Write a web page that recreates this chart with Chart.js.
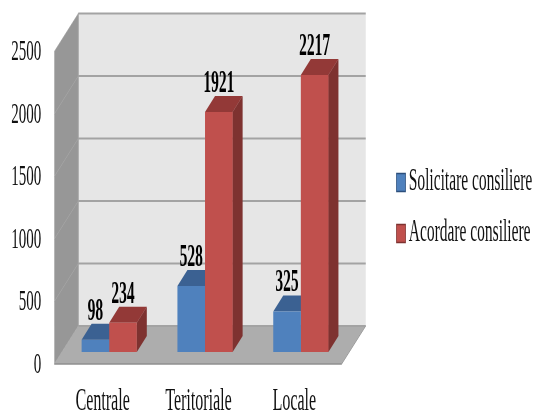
<!DOCTYPE html>
<html>

<head>
	<meta charset="UTF-8">
	<title>Consiliere</title>
	<script src="https://cdn.jsdelivr.net/npm/chart.js@4"></script>
	<style>
		html, body { margin: 0; padding: 0; overflow: hidden; background: #fff; width: 537px; height: 412px; }
		/* the picture is squeezed sideways: draw at double width, then halve it */
		#chart-area { position: absolute; left: 0; top: 0; transform: scaleX(0.5); transform-origin: 0 0; filter: blur(0.6px); }
	</style>
</head>

<body>
	<canvas id="chart-area" width="1074" height="412"></canvas>
</body>

<script>
	var categories = ['Centrale', 'Teritoriale', 'Locale'];
	var solicitare = [98, 528, 325];
	var acordare = [234, 1921, 2217];
	var seriesNames = ['Solicitare consiliere', 'Acordare consiliere'];
	var yMax = 2500;
	var yStep = 500;

	var FONT = 'Liberation Serif';
	var colors = [
		{ front: '#4f81bd', top: '#3b6192', side: '#335a8a', edge: '#2c4f7c' },
		{ front: '#c0504d', top: '#933937', side: '#7e3230', edge: '#7e3230' }
	];

	// 3d look, all relative to the chart area
	var barDepthX = 20, barDepthY = 16;
	var wallBackX = 34, wallFrontX = -14;
	var wallBackY = -26, wallFrontY = 12;

	function poly(ctx, pts, fill) {
		ctx.beginPath();
		ctx.moveTo(pts[0][0], pts[0][1]);
		for (var i = 1; i < pts.length; i++) ctx.lineTo(pts[i][0], pts[i][1]);
		ctx.closePath();
		ctx.fillStyle = fill;
		ctx.fill();
	}

	function line(ctx, x1, y1, x2, y2, color, w) {
		ctx.beginPath();
		ctx.moveTo(x1, y1);
		ctx.lineTo(x2, y2);
		ctx.strokeStyle = color;
		ctx.lineWidth = w;
		ctx.stroke();
	}

	var box3d = {
		id: 'box3d',
		afterLayout: function (chart) {
			// move legend away from the plot
			var lg = chart.legend;
			lg.left = 782; lg.right = 1074;
			lg.top = 3; lg.bottom = 412;
		},
		beforeDatasetsDraw: function (chart) {
			var ctx = chart.ctx, a = chart.chartArea, y = chart.scales.y;
			var y0 = y.getPixelForValue(0), yTop = y.getPixelForValue(yMax);
			var backL = a.left + wallBackX, backR = a.right + wallBackX;
			var frontL = a.left + wallFrontX, frontR = a.right + wallFrontX;

			ctx.save();
			// back wall, side wall, floor
			poly(ctx, [[backL, yTop + wallBackY], [backR, yTop + wallBackY], [backR, y0 + wallBackY], [backL, y0 + wallBackY]], '#e6e6e6');
			poly(ctx, [[frontL, yTop + wallFrontY], [backL, yTop + wallBackY], [backL, y0 + wallBackY], [frontL, y0 + wallFrontY]], '#979797');
			poly(ctx, [[frontL, y0 + wallFrontY], [backL, y0 + wallBackY], [backR, y0 + wallBackY], [frontR, y0 + wallFrontY]], '#adadad');

			// grid lines from the y ticks
			y.ticks.forEach(function (t) {
				var gy = y.getPixelForValue(t.value);
				line(ctx, frontL, gy + wallFrontY, backL, gy + wallBackY, '#a9a9a9', 1);
				line(ctx, backL, gy + wallBackY, backR, gy + wallBackY, '#a3a3a3', 2);
			});
			line(ctx, backL, yTop + wallBackY, backL, y0 + wallBackY, '#a3a3a3', 2);
			line(ctx, frontL, y0 + wallFrontY, frontR, y0 + wallFrontY, '#8f8f8f', 1.5);
			line(ctx, frontR, y0 + wallFrontY, backR, y0 + wallBackY, '#8f8f8f', 1);

			// bar sides and tops, the fronts are the real bars
			chart.data.datasets.forEach(function (ds, i) {
				chart.getDatasetMeta(i).data.forEach(function (bar) {
					var l = bar.x - bar.width / 2, r = bar.x + bar.width / 2;
					poly(ctx, [[r, bar.y], [r + barDepthX, bar.y - barDepthY], [r + barDepthX, bar.base - barDepthY], [r, bar.base]], colors[i].side);
					poly(ctx, [[l, bar.y], [l + barDepthX, bar.y - barDepthY], [r + barDepthX, bar.y - barDepthY], [r, bar.y]], colors[i].top);
				});
			});
			ctx.restore();
		},
		afterDatasetsDraw: function (chart) {
			var ctx = chart.ctx;
			ctx.save();
			ctx.font = 'bold 31px "' + FONT + '"';
			ctx.fillStyle = '#000';
			ctx.textAlign = 'center';
			ctx.textBaseline = 'middle';
			chart.data.datasets.forEach(function (ds, i) {
				chart.getDatasetMeta(i).data.forEach(function (bar, j) {
					ctx.fillText(ds.data[j], bar.x, bar.y - barDepthY - 12);
				});
			});
			ctx.restore();
		},
		afterDraw: function (chart) {
			// legend swatches sit closer to the text than the library allows
			var ctx = chart.ctx, lg = chart.legend;
			var pad = lg.options.labels.padding, size = lg.options.labels.font.size;
			var step = size + pad, mid = 182.5;
			ctx.save();
			lg.legendItems.forEach(function (item, i) {
				var x = lg.left + pad - 9, y = mid + i * step;
				ctx.fillStyle = colors[i].front;
				ctx.strokeStyle = colors[i].edge;
				ctx.lineWidth = 1.5;
				ctx.fillRect(x, y - 9, 18, 18);
				ctx.strokeRect(x, y - 9, 18, 18);
			});
			ctx.restore();
		}
	};

	window.onload = function () {
		var ctx = document.getElementById('chart-area').getContext('2d');
		Chart.defaults.font.family = FONT;
		Chart.defaults.font.size = 30;
		Chart.defaults.color = '#111';

		window.myBar = new Chart(ctx, {
			type: 'bar',
			data: {
				labels: categories,
				datasets: [
					{ label: seriesNames[0], data: solicitare, backgroundColor: colors[0].front },
					{ label: seriesNames[1], data: acordare, backgroundColor: colors[1].front }
				]
			},
			options: {
				responsive: false,
				animation: false,
				layout: { padding: { top: 39.5, right: 144, bottom: 0, left: 0 } },
				datasets: { bar: { barPercentage: 1, categoryPercentage: 0.576 } },
				plugins: {
					tooltip: { enabled: false },
					legend: {
						position: 'right',
						labels: { boxWidth: 0, padding: 20, font: { size: 31 } }
					}
				},
				scales: {
					x: {
						grid: { display: false, drawTicks: false },
						border: { display: false },
						ticks: { padding: 30, labelOffset: -13, maxRotation: 0, font: { size: 32 } },
						afterFit: function (s) { s.height = 60; s.paddingLeft = 0; s.paddingRight = 0; }
					},
					y: {
						min: 0,
						max: yMax,
						grid: { display: false, drawTicks: false },
						border: { display: false },
						ticks: {
							stepSize: yStep,
							padding: 40,
							labelOffset: 13,
							callback: function (v) { return String(v); }
						},
						afterFit: function (s) { s.width = 122.6; s.paddingTop = 0; s.paddingBottom = 0; }
					}
				}
			},
			plugins: [box3d]
		});
	};
</script>

</html>
